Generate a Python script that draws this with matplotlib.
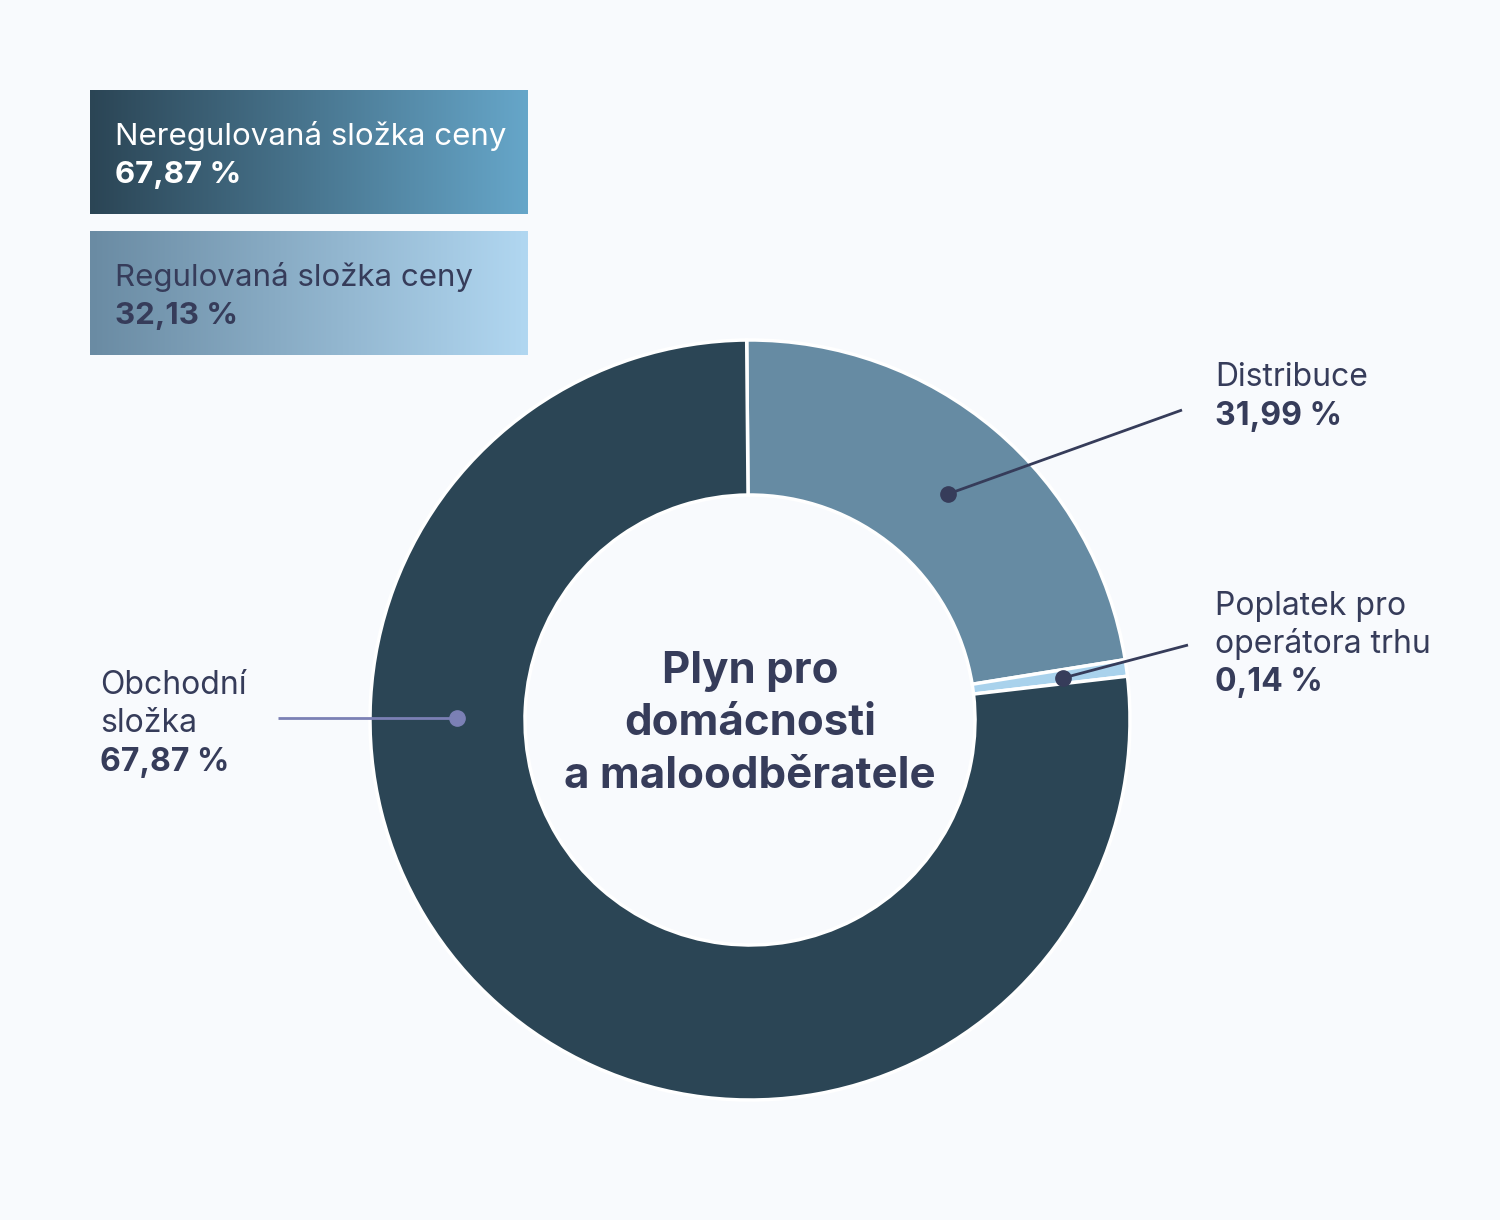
import numpy as np
import matplotlib.pyplot as plt

# slice sizes as drawn in the chart (clockwise from top)
segments = ['Distribuce', 'Poplatek pro\noperátora trhu', 'Obchodní\nsložka']
sizes = [22.6, 0.7, 76.7]
values = ['31,99 %', '0,14 %', '67,87 %']
colors = ['#668ba3', '#a9d2ec', '#2b4555']

groups = ['Neregulovaná složka ceny', 'Regulovaná složka ceny']
group_values = ['67,87 %', '32,13 %']

title = 'Plyn pro\ndomácnosti\na maloodběratele'

bg = '#f8fafd'
navy = '#363c5a'
plt.rcParams['font.family'] = ['Inter', 'DejaVu Sans']

W, H = 1500, 1220
fig = plt.figure(figsize=(W / 100, H / 100), dpi=100, facecolor=bg)
ax = fig.add_axes([0, 0, 1, 1])
ax.set_facecolor(bg)

def Y(y):
    # image pixel row -> plot y (text nudged down a little via dy)
    return H - y

# donut
cx, cy, r_out, r_in = 750, 720, 380, 225
ax.pie(sizes, colors=colors, startangle=90.5, counterclock=False,
       center=(cx, Y(cy)), radius=r_out, frame=True,
       wedgeprops=dict(width=r_out - r_in, edgecolor='white', linewidth=2.5))

for i, ln in enumerate(title.split('\n')):
    ax.text(cx, Y(671 + 52.5 * i), ln, ha='center', va='center', fontsize=31.5,
            fontweight='bold', color=navy)

# callouts: dot position, line end, text position
callouts = [
    dict(dot=(948, 494), end=(1182, 410), txt=(1215, 378), col=navy),
    dict(dot=(1063, 678), end=(1188, 645), txt=(1215, 606), col=navy),
    dict(dot=(457, 718), end=(278, 718), txt=(100, 685), col='#7b80b5'),
]
fs = 23
for seg, val, c in zip(segments, values, callouts):
    (dx, dy), (ex, ey), (tx, ty) = c['dot'], c['end'], c['txt']
    ax.plot([dx, ex], [Y(dy), Y(ey)], color=c['col'], lw=2, solid_capstyle='butt', zorder=3)
    ax.plot(dx, Y(dy), 'o', ms=11, color=c['col'], zorder=4)
    lines = seg.split('\n')
    for i, ln in enumerate(lines):
        ax.text(tx, Y(ty + 38.5 * i), ln, ha='left', va='center', fontsize=fs, color=navy)
    ax.text(tx, Y(ty + 38.5 * len(lines)), val, ha='left', va='center', fontsize=fs,
            fontweight='bold', color=navy)

# gradient boxes at top left
boxes = [
    dict(y0=90, y1=214, c0='#2b4555', c1='#66a6c9', tc='white'),
    dict(y0=231, y1=355, c0='#6a8ba3', c1='#b1d7f1', tc=navy),
]
x0, x1 = 90, 528
for name, val, b in zip(groups, group_values, boxes):
    c0 = np.array(plt.matplotlib.colors.to_rgb(b['c0']))
    c1 = np.array(plt.matplotlib.colors.to_rgb(b['c1']))
    t = np.linspace(0, 1, 256)[None, :, None]
    grad = c0 + (c1 - c0) * t
    ax.imshow(grad, extent=[x0, x1, Y(b['y1']), Y(b['y0'])], aspect='auto', zorder=2)
    ax.text(115, Y(b['y0'] + 46), name, ha='left', va='center', fontsize=22.5, color=b['tc'], zorder=3)
    ax.text(115, Y(b['y0'] + 85), val, ha='left', va='center', fontsize=22.5,
            fontweight='bold', color=b['tc'], zorder=3)

ax.set_xlim(0, W)
ax.set_ylim(0, H)
ax.set_aspect('equal')
ax.axis('off')
fig.savefig('out.png', dpi=100, facecolor=bg)
